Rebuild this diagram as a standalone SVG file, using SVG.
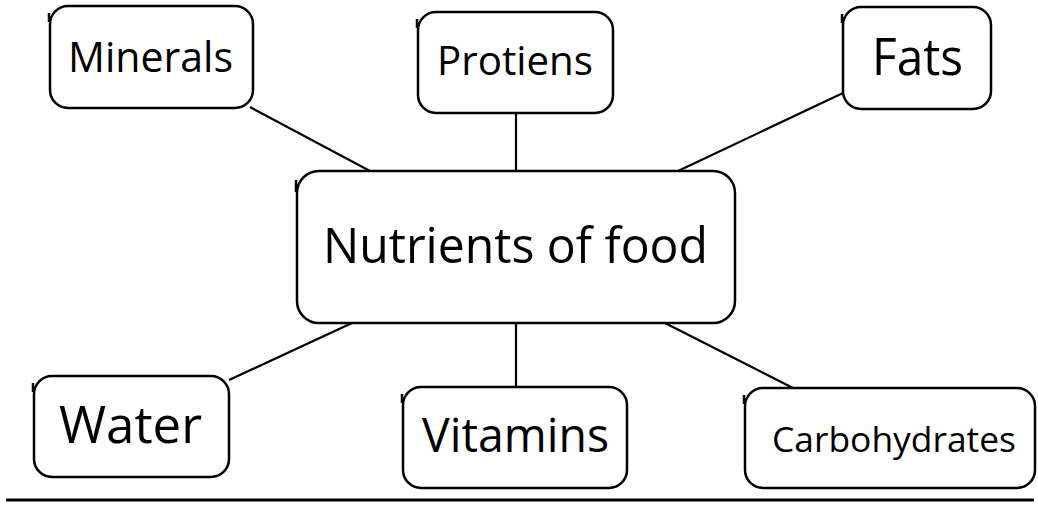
<svg xmlns="http://www.w3.org/2000/svg" width="1038" height="506" viewBox="0 0 1038 506">
<style>
.box{fill:#fff;stroke:#000;stroke-width:2.5}
.tick{stroke:#000;stroke-width:2.5}
.lbl{font-family:"Open Sans","Liberation Sans",sans-serif;fill:#000}
.conn line{stroke:#000;stroke-width:2.2}
</style>
<rect width="1038" height="506" fill="#fff"/>
<g id="connectors" class="conn">
<line x1="250" y1="107" x2="370" y2="171"/>
<line x1="516" y1="113" x2="516" y2="171"/>
<line x1="843" y1="93" x2="678" y2="171"/>
<line x1="229" y1="380" x2="352" y2="323"/>
<line x1="516" y1="323" x2="516" y2="387"/>
<line x1="665" y1="323" x2="793" y2="388"/>
</g>
<g id="minerals">
<rect class="box" x="50" y="6" width="203" height="102" rx="18"/>
<line class="tick" x1="49" y1="13" x2="49" y2="22"/>
<text class="lbl" x="68" y="72" font-size="42" textLength="165" lengthAdjust="spacingAndGlyphs">Minerals</text>
</g>
<g id="protiens">
<rect class="box" x="418" y="12" width="195" height="101" rx="18"/>
<line class="tick" x1="417" y1="19" x2="417" y2="28"/>
<text class="lbl" x="437" y="75" font-size="41" textLength="156" lengthAdjust="spacingAndGlyphs">Protiens</text>
</g>
<g id="fats">
<rect class="box" x="843" y="7" width="148" height="102" rx="18"/>
<line class="tick" x1="842" y1="14" x2="842" y2="23"/>
<text class="lbl" x="872" y="75" font-size="52" textLength="91" lengthAdjust="spacingAndGlyphs">Fats</text>
</g>
<g id="nutrients">
<rect class="box" x="297" y="171" width="438" height="152" rx="22"/>
<line class="tick" x1="296" y1="180" x2="296" y2="192"/>
<text class="lbl" x="323" y="263" font-size="49" textLength="385" lengthAdjust="spacingAndGlyphs">Nutrients of food</text>
</g>
<g id="water">
<rect class="box" x="34" y="376" width="195" height="101" rx="18"/>
<line class="tick" x1="33" y1="383" x2="33" y2="392"/>
<text class="lbl" x="59" y="443" font-size="52" textLength="143" lengthAdjust="spacingAndGlyphs">Water</text>
</g>
<g id="vitamins">
<rect class="box" x="403" y="387" width="224" height="101" rx="18"/>
<line class="tick" x1="402" y1="394" x2="402" y2="403"/>
<text class="lbl" x="422" y="452" font-size="47" textLength="187" lengthAdjust="spacingAndGlyphs">Vitamins</text>
</g>
<g id="carbohydrates">
<rect class="box" x="745" y="388" width="290" height="100" rx="18"/>
<line class="tick" x1="744" y1="395" x2="744" y2="404"/>
<text class="lbl" x="772" y="452" font-size="34" textLength="244" lengthAdjust="spacingAndGlyphs">Carbohydrates</text>
</g>
<line x1="6" y1="500" x2="1034" y2="500" stroke="#000" stroke-width="3"/>
</svg>
